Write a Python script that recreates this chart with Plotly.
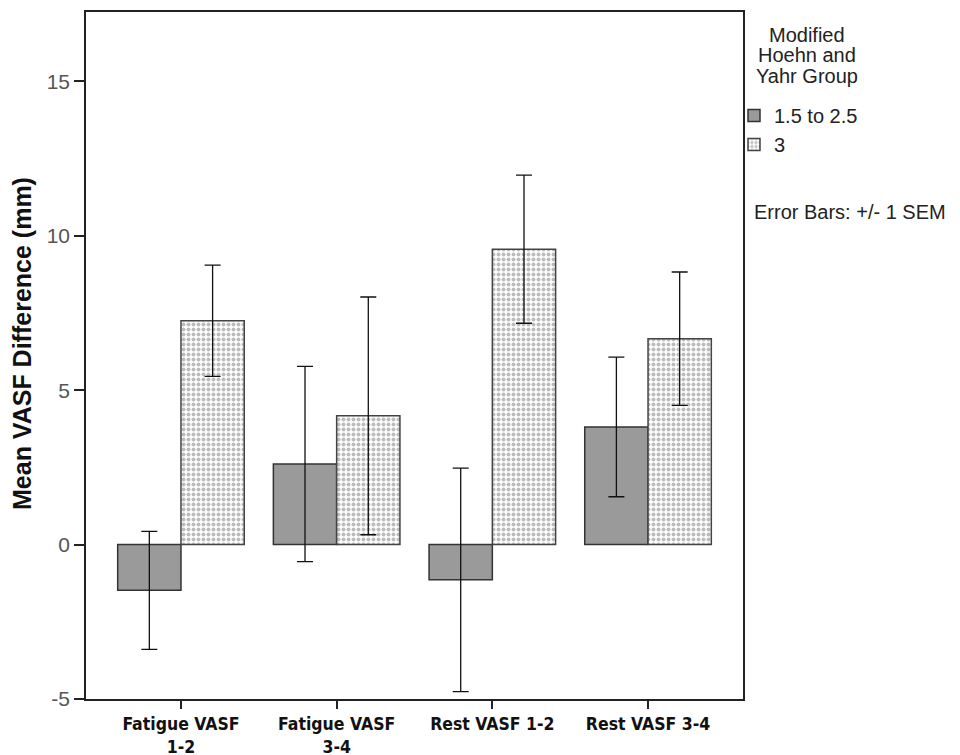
import plotly.graph_objects as go

categories = ["Fatigue VASF<br>1-2", "Fatigue VASF<br>3-4", "Rest VASF 1-2", "Rest VASF 3-4"]
group_names = ["1.5 to 2.5", "3"]
means_low = [-1.48, 2.61, -1.14, 3.81]
sem_low = [1.91, 3.16, 3.62, 2.26]
means_high = [7.25, 4.17, 9.57, 6.67]
sem_high = [1.80, 3.85, 2.40, 2.16]
y_ticks = [-5, 0, 5, 10, 15]
y_tick_labels = ["-5", "0", "5", "10", "15"]
legend_title_lines = ["Modified", "Hoehn and", "Yahr Group"]

FONT = "Liberation Sans, Arial, sans-serif"
NARROW = "DejaVu Sans Condensed, Liberation Sans Narrow, Liberation Sans, sans-serif"

W, H = 952, 747
L, R, T, B = 78, 217, 4, 56
PW, PH = W - L - R, H - T - B


def px(xp):
    return (xp - 8 - L) / PW


def py(yp):
    return 1 - (yp - 8 - T) / PH


fig = go.Figure()
fig.add_trace(go.Bar(
    x=categories, y=means_low, name=group_names[0],
    marker=dict(color="#9a9a9a", line=dict(color="#333333", width=1.5)),
    error_y=dict(type="data", array=sem_low, visible=True, color="#111111", thickness=1.3, width=8),
))
fig.add_trace(go.Bar(
    x=categories, y=means_high, name=group_names[1],
    marker=dict(color="white", line=dict(color="#444444", width=1.5),
                pattern=dict(shape=".", fgcolor="#7a7a7a", bgcolor="white", size=5, solidity=0.5)),
    error_y=dict(type="data", array=sem_high, visible=True, color="#111111", thickness=1.3, width=8),
))

fig.update_layout(
    width=W, height=H,
    margin=dict(l=L, r=R, t=T, b=B, autoexpand=False),
    paper_bgcolor="white", plot_bgcolor="white",
    barmode="group", bargap=0.187, bargroupgap=0,
    showlegend=True,
    legend=dict(x=px(734), y=py(96), xanchor="left", yanchor="top",
                font=dict(family=FONT, size=20, color="#222222"),
                bgcolor="rgba(0,0,0,0)", tracegroupgap=0, itemwidth=30),
    font=dict(family=FONT, color="#222222"),
)
fig.update_xaxes(
    range=[-0.61, 3.61], showline=True, linecolor="#222222", linewidth=1.5, mirror=True,
    ticks="outside", ticklen=8, tickcolor="#222222", tickwidth=1.5,
    showgrid=False, zeroline=False, automargin=False,
    tickfont=dict(family=NARROW, size=17.5, color="#111111", weight="bold"),
)
fig.update_yaxes(
    range=[-5, 17.25], tickvals=y_ticks, ticktext=y_tick_labels,
    showline=True, linecolor="#222222", linewidth=1.5,
    mirror=True, ticks="outside", ticklen=10, tickcolor="#222222", tickwidth=1.5,
    showgrid=False, zeroline=False, automargin=False,
    tickfont=dict(family=FONT, size=21, color="#555555"),
)

fig.add_annotation(
    text="<b>Mean VASF Difference (mm)</b>", textangle=-90,
    xref="paper", yref="paper", x=px(22), y=py(344),
    xanchor="center", yanchor="middle", showarrow=False,
    font=dict(family=FONT, size=25, color="#111111"),
)
for line, yc in zip(legend_title_lines, [35, 55, 76]):
    fig.add_annotation(
        text=line, xref="paper", yref="paper", x=px(807), y=py(yc),
        xanchor="center", yanchor="middle", showarrow=False,
        font=dict(family=FONT, size=20, color="#222222"),
    )
fig.add_annotation(
    text="Error Bars: +/- 1 SEM", align="left",
    xref="paper", yref="paper", x=px(752), y=py(212),
    xanchor="left", yanchor="middle", showarrow=False,
    font=dict(family=FONT, size=20, color="#222222"),
)

fig.write_html("out.html")
